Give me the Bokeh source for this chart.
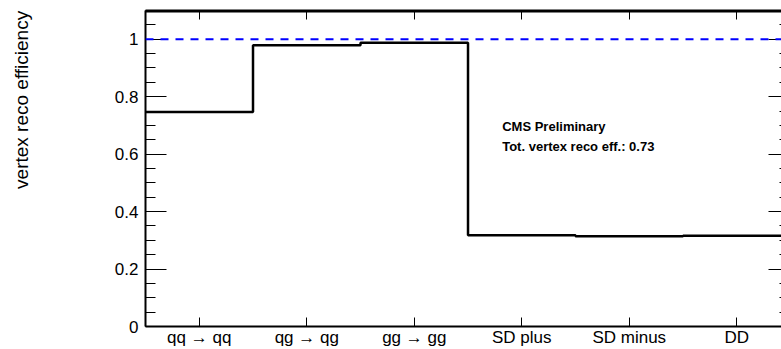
import numpy as np
from bokeh.plotting import figure
from bokeh.models import FixedTicker, LinearAxis, Span, Label, Range1d
from bokeh.embed import file_html
from bokeh.resources import INLINE

# ---- data ----
categories = ["qq \u2192 qq", "qg \u2192 qg", "gg \u2192 gg", "SD plus", "SD minus", "DD"]
efficiency = [0.747, 0.979, 0.988, 0.318, 0.314, 0.316]
y_ticks = [0.0, 0.2, 0.4, 0.6, 0.8, 1.0]
y_minor = [round(0.05 * i, 2) for i in range(23)]
reference_line = 1.0
title_y = "vertex reco efficiency"
note_lines = ["CMS Preliminary", "Tot. vertex reco eff.: 0.73"]

FONT = "Liberation Sans"
Y_MAX = 1.1

p = figure(width=781, height=349, output_backend="svg", toolbar_location=None,
           x_range=Range1d(0, 5.916), y_range=Range1d(0, Y_MAX),
           min_border_left=145, min_border_top=10, min_border_right=0,
           min_border_bottom=21)
p.outline_line_color = None
p.background_fill_color = "white"
p.border_fill_color = "white"
p.xgrid.visible = False
p.ygrid.visible = False

n = len(categories)
centers = [i + 0.5 for i in range(n)]
overrides = {c: lab for c, lab in zip(centers, categories)}

# bottom axis
xa = p.xaxis[0]
xa.ticker = FixedTicker(ticks=centers, minor_ticks=[])
xa.major_label_overrides = overrides
xa.major_tick_in = 9
xa.major_tick_out = 0
xa.minor_tick_in = 0
xa.minor_tick_out = 0
xa.axis_line_width = 2
xa.major_tick_line_width = 1
xa.major_label_standoff = 1
xa.major_label_text_font = FONT
xa.major_label_text_font_size = "17px"
xa.major_label_text_color = "black"

# left axis, its title pushed to the top end with non-breaking padding
ya = p.yaxis[0]
ya.ticker = FixedTicker(ticks=y_ticks, minor_ticks=y_minor)
ya.major_label_overrides = {0: "0", 1: "1"}
ya.major_tick_in = 21
ya.major_tick_out = 0
ya.minor_tick_in = 10
ya.minor_tick_out = 0
ya.axis_line_width = 2
ya.major_label_standoff = 7
ya.major_label_text_font = FONT
ya.major_label_text_font_size = "17px"
ya.major_label_text_color = "black"
ya.axis_label = "\u00a0" * 26 + title_y
ya.axis_label_standoff = 80
ya.axis_label_text_font = FONT
ya.axis_label_text_font_size = "19px"
ya.axis_label_text_font_style = "normal"
ya.axis_label_text_color = "black"

# top axis
ta = LinearAxis(ticker=FixedTicker(ticks=centers, minor_ticks=[]))
ta.major_tick_in = 9
ta.major_tick_out = 0
ta.minor_tick_in = 0
ta.minor_tick_out = 0
ta.axis_line_width = 2
ta.axis_line_color = "black"
ta.major_label_text_font_size = "1px"
ta.major_label_text_color = None
ta.major_label_standoff = 0
p.add_layout(ta, "above")

# right axis (frame edge cropped in the reference)
ra = LinearAxis(ticker=FixedTicker(ticks=y_ticks, minor_ticks=y_minor))
ra.axis_line_color = None
ra.major_tick_in = 13
ra.major_tick_out = 0
ra.minor_tick_in = 2
ra.minor_tick_out = 0
ra.major_label_text_font_size = "1px"
ra.major_label_text_color = None
ra.major_label_standoff = 0
p.add_layout(ra, "right")

# top frame edge
p.add_layout(Span(location=Y_MAX, dimension="width", line_color="black", line_width=4))

# histogram outline
edges = list(range(n + 1))
p.step(x=edges, y=efficiency + [efficiency[-1]], mode="after",
       line_color="black", line_width=2.5)

# reference line
p.add_layout(Span(location=reference_line, dimension="width", line_color="#0000ff",
                  line_width=2, line_dash="8 7"))

# texts
p.add_layout(Label(x=3.318, y=0.6955, text=note_lines[0], text_font=FONT,
                   text_font_size="13px", text_font_style="bold",
                   text_baseline="alphabetic", text_align="left", text_color="black"))
p.add_layout(Label(x=3.318, y=0.626, text=note_lines[1], text_font=FONT,
                   text_font_size="13px", text_font_style="bold",
                   text_baseline="alphabetic", text_align="left", text_color="black"))

open("out.html", "w").write(file_html(p, INLINE))
